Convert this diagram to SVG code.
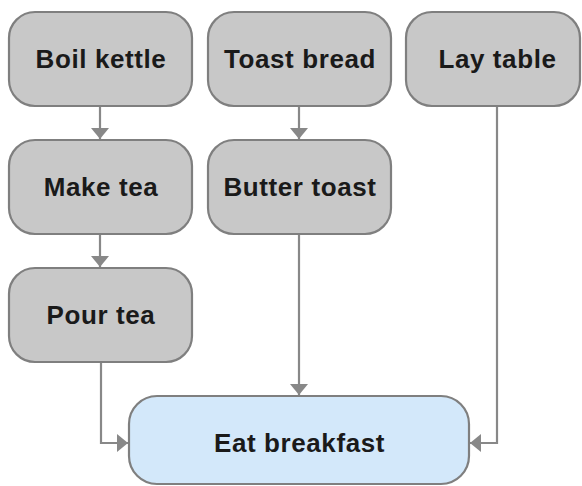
<svg xmlns="http://www.w3.org/2000/svg" width="582" height="486" viewBox="0 0 582 486">
<style>
.n rect{fill:#c8c8c8;stroke:#7f7f7f;stroke-width:2.2}
.n.f rect{fill:#d3e8fa}
.n text{font-family:"Liberation Sans",Arial,sans-serif;font-weight:bold;font-size:26px;letter-spacing:0.6px;fill:#1a1a1a;text-anchor:middle}
.c path{fill:none;stroke:#888;stroke-width:2.2}
</style>
<defs>
<marker id="ah" viewBox="0 0 11 18" refX="11" refY="9" markerWidth="11" markerHeight="18" markerUnits="userSpaceOnUse" orient="auto">
<path d="M0,0 L11,9 L0,18 Z" fill="#888"/>
</marker>
</defs>
<g class="c">
<path d="M100,106 V139" marker-end="url(#ah)"/>
<path d="M299,106 V139" marker-end="url(#ah)"/>
<path d="M100,234 V267" marker-end="url(#ah)"/>
<path d="M299,234 V395" marker-end="url(#ah)"/>
<path d="M101,362 V443 H128" marker-end="url(#ah)"/>
<path d="M497,106 V443 H470" marker-end="url(#ah)"/>
</g>
<g id="boil" class="n"><rect x="9" y="12" width="183" height="94" rx="26"/><text x="101" y="68">Boil kettle</text></g>
<g id="toast" class="n"><rect x="208" y="12" width="183" height="94" rx="26"/><text x="300" y="68">Toast bread</text></g>
<g id="lay" class="n"><rect x="406" y="12" width="174" height="94" rx="26"/><text x="497.5" y="68">Lay table</text></g>
<g id="make" class="n"><rect x="9" y="140" width="183" height="94" rx="26"/><text x="101" y="196">Make tea</text></g>
<g id="butter" class="n"><rect x="208" y="140" width="183" height="94" rx="26"/><text x="300" y="196">Butter toast</text></g>
<g id="pour" class="n"><rect x="9" y="268" width="183" height="94" rx="26"/><text x="101" y="324">Pour tea</text></g>
<g id="eat" class="n f"><rect x="129" y="396" width="340" height="88" rx="28"/><text x="299.5" y="452">Eat breakfast</text></g>
</svg>
